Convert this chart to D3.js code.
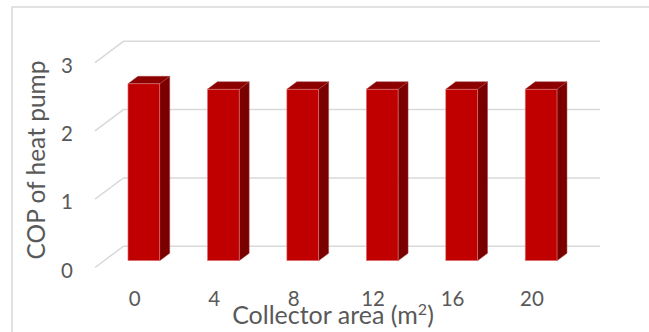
<!DOCTYPE html>
<html>
<head>
<meta charset="utf-8">
<script src="https://cdn.jsdelivr.net/npm/d3@7"></script>
<style>
  html, body { margin: 0; padding: 0; background: #fff; }
  svg { display: block; }
  text { font-family: Lato, "Open Sans", sans-serif; fill: #595959; }
</style>
</head>
<body>
<svg id="chart" width="649" height="332"></svg>
<script>
// Collector area (m²) categories and heat-pump COP
const categories = ["0", "4", "8", "12", "16", "20"];
const copValues = [2.59, 2.51, 2.51, 2.51, 2.51, 2.51];
const yTicks = [0, 1, 2, 3];
const xTitle = "Collector area (m";
const xTitleSup = "2";
const yTitle = "COP of heat pump";

const svg = d3.select("#chart");
const W = 649, H = 332;

// oblique projection: depth vector from front plane to back wall
const depth = { dx: 28.5, dy: -21.3 };
const barZ0 = 0.32, barZ1 = 0.67;

const frontLeft = 95, frontRight = 571.7;
const x = d3.scaleBand()
  .domain(categories)
  .range([frontLeft, frontRight])
  .paddingInner(0.6)
  .paddingOuter(0.3);

const y = d3.scaleLinear().domain([0, 3]).range([267.5, 62.6]);

// chart frame
svg.append("path")
  .attr("d", `M12,${H} L12,7 L${W},7`)
  .attr("fill", "none")
  .attr("stroke", "#d9d9d9")
  .attr("stroke-width", 1.5);

// gridlines: side floor diagonal + back wall line
const grid = svg.append("g").attr("fill", "none").attr("stroke", "#d9d9d9").attr("stroke-width", 1.5);
yTicks.forEach(v => {
  const yf = y(v);
  const xb = frontLeft + depth.dx, yb = yf + depth.dy;
  grid.append("path")
    .attr("d", `M${frontLeft},${yf} L${xb},${yb} L${frontRight + depth.dx},${yb}`);
});

// value axis labels
svg.append("g").selectAll("text")
  .data(yTicks)
  .join("text")
  .attr("x", 67)
  .attr("y", d => y(d) + 2)
  .attr("text-anchor", "middle")
  .attr("dominant-baseline", "central")
  .attr("font-size", 20.5)
  .text(d => d3.format("d")(d));

// 3D columns
const bars = svg.append("g");
categories.forEach((c, i) => {
  const v = copValues[i];
  const bx = x(c) + barZ0 * depth.dx;
  const by0 = y(0) + barZ0 * depth.dy;
  const byT = y(v) + barZ0 * depth.dy;
  const bw = x.bandwidth();
  const ddx = (barZ1 - barZ0) * depth.dx, ddy = (barZ1 - barZ0) * depth.dy;
  const g = bars.append("g");
  // side face
  g.append("path")
    .attr("d", `M${bx + bw},${byT} L${bx + bw + ddx},${byT + ddy} L${bx + bw + ddx},${by0 + ddy} L${bx + bw},${by0} Z`)
    .attr("fill", "#7a0000")
    .attr("stroke", "#a04040").attr("stroke-width", 0.5);
  // top face
  g.append("path")
    .attr("d", `M${bx},${byT} L${bx + ddx},${byT + ddy} L${bx + bw + ddx},${byT + ddy} L${bx + bw},${byT} Z`)
    .attr("fill", "#8c0000")
    .attr("stroke", "#a04040").attr("stroke-width", 0.5);
  // front face
  g.append("rect")
    .attr("x", bx).attr("y", byT)
    .attr("width", bw).attr("height", by0 - byT)
    .attr("fill", "#c00000")
    .attr("stroke", "#e08080").attr("stroke-width", 0.6);
});

// category labels
svg.append("g").selectAll("text")
  .data(categories)
  .join("text")
  .attr("x", d => x(d) + x.bandwidth() / 2)
  .attr("y", 305.5)
  .attr("text-anchor", "middle")
  .attr("font-size", 20.5)
  .text(d => d);

// axis titles
const xt = svg.append("text")
  .attr("x", 333)
  .attr("y", 324)
  .attr("text-anchor", "middle")
  .attr("font-size", 25);
xt.append("tspan").text(xTitle);
xt.append("tspan").attr("font-size", 16).attr("dy", -9).text(xTitleSup);
xt.append("tspan").attr("dy", 9).text(")");

svg.append("text")
  .attr("transform", "translate(45,160) rotate(-90)")
  .attr("text-anchor", "middle")
  .attr("font-size", 24.5)
  .text(yTitle);
</script>
</body>
</html>
